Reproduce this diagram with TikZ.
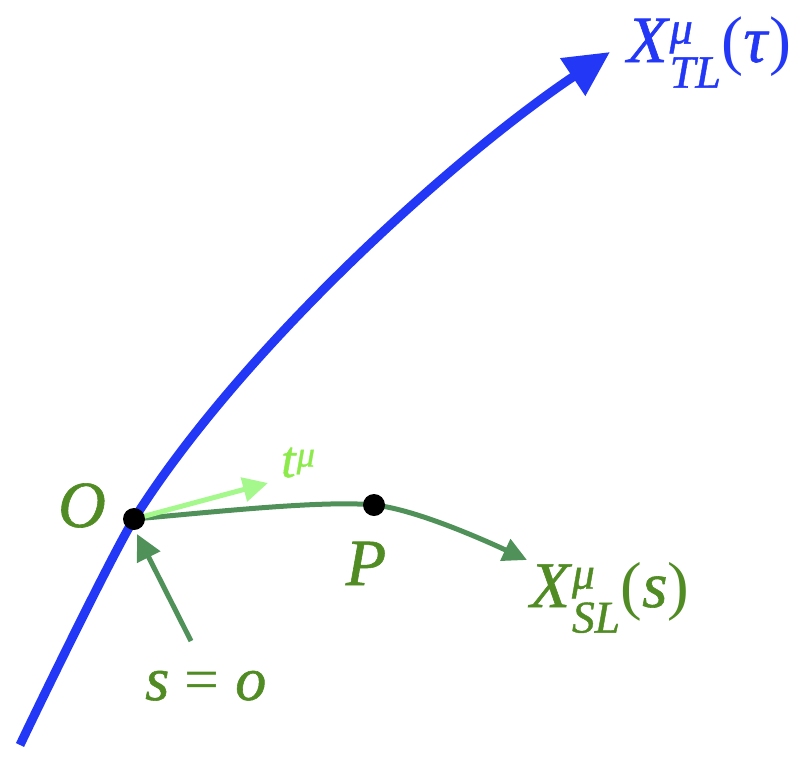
\documentclass[tikz,border=0pt]{standalone}
\usepackage{amsmath}
\usepackage{fontspec}
\setmainfont{Liberation Serif}[ItalicFeatures={FakeBold=0.9}]
\usetikzlibrary{arrows.meta}
\definecolor{blueC}{RGB}{35,56,246}
\definecolor{greenT}{RGB}{80,140,35}
\definecolor{greenA}{RGB}{80,145,90}
\definecolor{lightA}{RGB}{165,248,140}
\definecolor{lightT}{RGB}{140,235,75}
\newcommand{\bi}[1]{\textit{#1}}
\newcommand{\lab}[3]{\bi{#1}$^{\text{\itshape #2}}_{\text{\itshape #3}}$}
\begin{document}
\begin{tikzpicture}[x=1pt,y=-1pt,
  dot/.style={circle,fill=black,inner sep=0pt,minimum size=22pt},
  bigtxt/.style={inner sep=0pt,font=\fontsize{66}{72}\selectfont},
  smalltxt/.style={inner sep=0pt,font=\fontsize{52}{56}\selectfont},
  worldline/.style={blueC,line width=9pt,-{Triangle[length=45pt,width=43pt]}},
  greenarrow/.style={greenA,line width=5pt,-{Triangle[length=24pt,width=23pt]}},
  lightarrow/.style={lightA,line width=5pt,-{Triangle[length=25pt,width=24pt]}}]
\useasboundingbox (0,0) rectangle (803,758);
% coordinates
\coordinate (Start) at (20,745);
\coordinate (O) at (134,519);
\coordinate (Tip) at (610,52);
\coordinate (P) at (374,505);
\coordinate (Send) at (527,560);
\coordinate (Tend) at (268,483);
\coordinate (Tail) at (191,641);
\coordinate (Ounder) at (137,534);
% world line
\draw[worldline] (Start) .. controls (37,709) and (113,553) .. (O)
                 .. controls (240.6,349.8) and (452,158) .. (Tip);
% spacelike curve
\draw[greenarrow] (O) .. controls (214,512) and (324,500) .. (P)
                      .. controls (414,509) and (482,539) .. (Send);
% tangent vector
\draw[lightarrow] (O) -- (Tend);
% s=o pointer
\draw[greenarrow,-{Triangle[length=26pt,width=25pt]}] (Tail) -- (Ounder);
% dots
\node[dot] (Odot) at (O) {};
\node[dot] (Pdot) at (P) {};
% labels
\node[bigtxt,greenT,anchor=base] (Olab) at (82,527) {\bi{O}};
\node[bigtxt,greenT,anchor=base] (Plab) at (366,585) {\bi{P}};
\node[smalltxt,lightT,anchor=base west] (tlab) at (281,477) {\bi{t}$^{\text{\itshape μ}}$};
\node[bigtxt,greenT,anchor=base west,font=\fontsize{65}{72}\selectfont] (XSL) at (530,607) {\lab{X}{μ}{SL}(\bi{s})};
\node[bigtxt,blueC,anchor=base west] (XTL) at (627,62) {\lab{X}{μ}{TL}(\bi{τ})};
\node[bigtxt,greenT,anchor=base west,font=\fontsize{62}{68}\selectfont] (so) at (145,700) {\bi{s} = \bi{o}};
\end{tikzpicture}
\end{document}
